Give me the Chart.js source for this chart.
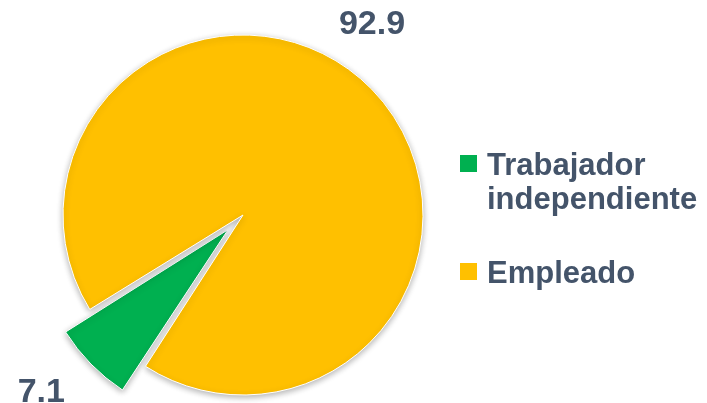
<!DOCTYPE html>
<html lang="es">
<head>
  <meta charset="utf-8">
  <title>Trabajador independiente vs Empleado</title>
  <script src="https://cdn.jsdelivr.net/npm/chart.js"></script>
  <style>
    html, body { margin: 0; padding: 0; background: #fff; }
    #wrap { width: 707px; height: 403px; position: relative; }
  </style>
</head>
<body>
<div id="wrap"><canvas id="pie"></canvas></div>
<script>
  // datos
  const categorias = ['Trabajador independiente', 'Empleado'];
  const valores = [7.1, 92.9];
  const colores = ['#00B050', '#FFC000'];
  const textoColor = '#44546A';

  // desplazamiento real que Chart.js aplica a un arco con "offset"
  function offsetReal(arc, off) {
    const circ = arc.endAngle - arc.startAngle;
    const fix = 1 - Math.sin(Math.min(Math.PI, circ));
    return off / 4 * (1 + fix);
  }

  // etiquetas de valor fuera de cada sector
  const valueLabels = {
    id: 'valueLabels',
    afterDatasetsDraw(chart) {
      const ctx = chart.ctx;
      const meta = chart.getDatasetMeta(0);
      const offs = chart.data.datasets[0].offset;
      ctx.save();
      ctx.font = 'bold 34px "Liberation Sans", Arial, sans-serif';
      ctx.fillStyle = textoColor;
      ctx.textAlign = 'center';
      ctx.textBaseline = 'middle';
      const shift = [0.06, -0.2]; // ajuste angular de la etiqueta (rad)
      meta.data.forEach((arc, i) => {
        const p = arc.getProps(['x', 'y', 'startAngle', 'endAngle', 'outerRadius'], true);
        const half = (p.startAngle + p.endAngle) / 2;
        const off = offsetReal(p, offs[i] || 0);
        const cx = p.x + Math.cos(half) * off;
        const cy = p.y + Math.sin(half) * off;
        const d = p.outerRadius + (i === 0 ? 56 : 50);
        ctx.fillText(valores[i].toFixed(1), cx + Math.cos(half + shift[i]) * d, cy + Math.sin(half + shift[i]) * d);
      });
      ctx.restore();
    }
  };

  // sombra suave de los sectores
  const sombra = {
    id: 'sombra',
    beforeDatasetsDraw(chart) {
      const ctx = chart.ctx;
      ctx.save();
      ctx.shadowColor = 'rgba(0,0,0,0.3)';
      ctx.shadowBlur = 6;
      ctx.shadowOffsetX = 0;
      ctx.shadowOffsetY = 2;
    },
    afterDatasetsDraw(chart) {
      chart.ctx.restore();
    }
  };

  // leyenda a la derecha con texto partido en líneas
  const leyenda = {
    id: 'leyenda',
    afterDraw(chart) {
      const ctx = chart.ctx;
      ctx.save();
      ctx.font = 'bold 31px "Liberation Sans", Arial, sans-serif';
      ctx.textBaseline = 'alphabetic';
      ctx.textAlign = 'left';
      const x0 = 460, box = 17, tx = 487, maxW = 218, lh = 34, gap = 40;
      let y = 175;
      categorias.forEach((cat, i) => {
        const words = cat.split(' ');
        const lines = [];
        let cur = '';
        words.forEach(w => {
          const t = cur ? cur + ' ' + w : w;
          if (cur && ctx.measureText(t).width > maxW) { lines.push(cur); cur = w; }
          else cur = t;
        });
        lines.push(cur);
        ctx.fillStyle = colores[i];
        ctx.fillRect(x0, y - 20, box, box);
        ctx.fillStyle = textoColor;
        lines.forEach((ln, k) => ctx.fillText(ln, tx, y + k * lh));
        y += (lines.length - 1) * lh + lh + gap;
      });
      ctx.restore();
    }
  };

  new Chart(document.getElementById('pie'), {
    type: 'pie',
    data: {
      labels: categorias,
      datasets: [{
        data: valores,
        backgroundColor: colores,
        borderColor: '#ffffff',
        borderWidth: 1,
        offset: [84, 0],
        radius: 180
      }]
    },
    options: {
      responsive: true,
      maintainAspectRatio: false,
      animation: false,
      rotation: 212.8,
      layout: { padding: { left: 0, right: 221, top: 27, bottom: 0 } },
      plugins: {
        legend: { display: false },
        tooltip: { enabled: false }
      }
    },
    plugins: [sombra, valueLabels, leyenda]
  });
</script>
</body>
</html>
